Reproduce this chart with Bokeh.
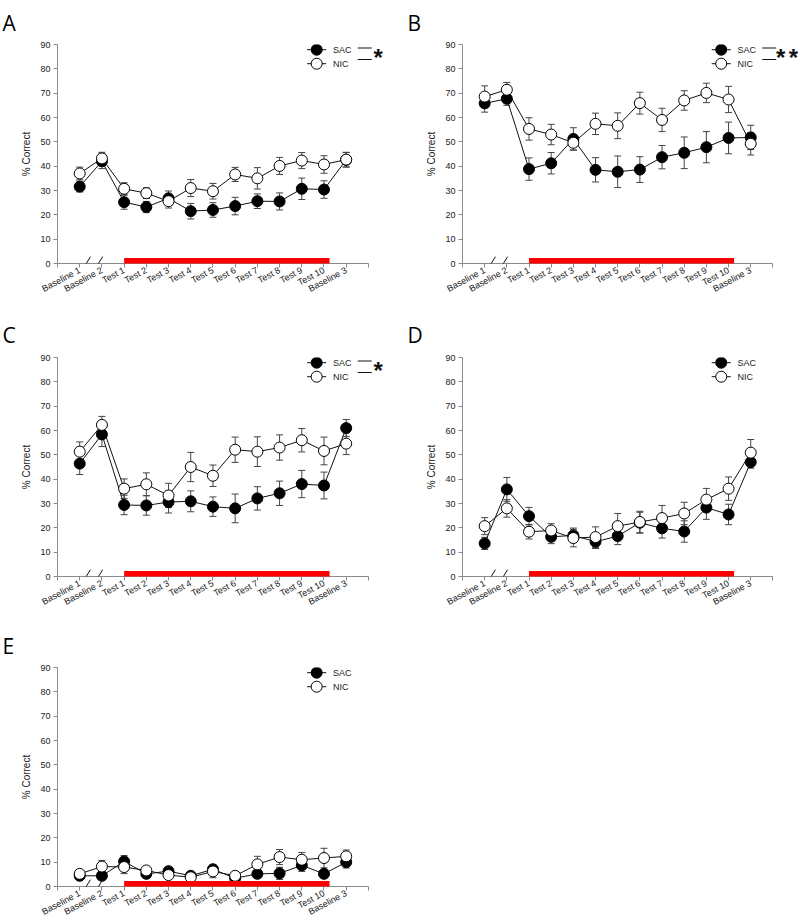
from bokeh.plotting import figure
from bokeh.models import (ColumnDataSource, Whisker, TeeHead, FixedTicker, Range1d,
                          Arrow, BoxAnnotation)
from bokeh.layouts import row, column
from bokeh.embed import file_html
from bokeh.resources import INLINE
from bokeh.core.properties import value

# ---------------- data ----------------
sessions = ["Baseline 1", "Baseline 2", "Test 1", "Test 2", "Test 3", "Test 4", "Test 5",
            "Test 6", "Test 7", "Test 8", "Test 9", "Test 10", "Baseline 3"]

A_sac = [31.6, 42.0, 25.2, 23.2, 26.8, 21.5, 22.0, 23.6, 25.6, 25.5, 30.7, 30.4, 42.6]
A_sac_se = [2.2, 3.0, 2.9, 2.3, 3.0, 3.2, 3.0, 3.6, 3.0, 3.5, 4.4, 3.6, 3.0]
A_nic = [37.0, 43.2, 30.7, 28.9, 25.6, 31.0, 29.7, 36.6, 35.0, 40.1, 42.3, 40.7, 42.7]
A_nic_se = [2.6, 2.5, 2.5, 2.2, 2.8, 3.5, 3.2, 2.9, 4.4, 3.5, 3.3, 3.6, 3.0]

B_sac = [65.8, 67.7, 38.8, 41.2, 51.2, 38.5, 37.7, 38.6, 43.7, 45.5, 47.8, 51.6, 51.8]
B_sac_se = [3.6, 2.7, 4.6, 4.4, 4.6, 5.0, 6.5, 5.3, 4.8, 6.5, 6.4, 6.5, 5.0]
B_nic = [68.6, 71.4, 55.3, 53.0, 49.6, 57.4, 56.6, 65.9, 59.0, 67.0, 70.1, 67.4, 49.2]
B_nic_se = [4.4, 3.0, 4.6, 4.2, 3.0, 4.4, 5.3, 4.5, 4.8, 4.0, 4.0, 5.4, 4.6]

C_sac = [46.4, 58.4, 29.4, 29.2, 30.6, 30.9, 28.7, 28.0, 32.1, 34.2, 38.0, 37.4, 61.0]
C_sac_se = [4.5, 5.0, 4.0, 4.0, 4.5, 4.3, 4.0, 5.9, 4.8, 5.0, 5.6, 5.5, 3.5]
C_nic = [51.3, 62.3, 36.1, 37.9, 33.3, 45.0, 41.4, 52.1, 51.3, 53.0, 56.0, 51.6, 54.6]
C_nic_se = [4.0, 3.5, 4.0, 4.7, 5.0, 6.0, 4.4, 5.2, 6.1, 5.2, 4.8, 5.7, 4.5]

D_sac = [13.6, 35.8, 24.8, 16.3, 16.9, 14.3, 16.6, 22.1, 19.8, 18.5, 28.3, 25.5, 47.0]
D_sac_se = [2.5, 4.9, 3.6, 2.8, 3.0, 2.8, 3.5, 4.3, 4.0, 4.4, 4.8, 4.2, 2.5]
D_nic = [20.7, 28.0, 18.4, 18.9, 15.8, 16.2, 20.7, 22.4, 24.0, 25.9, 31.6, 36.1, 50.9]
D_nic_se = [3.5, 3.6, 3.0, 2.8, 3.6, 4.2, 5.2, 4.4, 5.2, 4.6, 4.6, 4.8, 5.4]

E_sac = [4.4, 4.4, 10.3, 5.2, 6.3, 4.4, 7.1, 3.4, 5.2, 5.4, 8.7, 5.2, 10.0]
E_sac_se = [1.0, 1.0, 2.4, 1.0, 1.0, 1.0, 1.0, 1.0, 1.5, 2.5, 2.5, 1.2, 2.4]
E_nic = [5.2, 8.2, 8.0, 6.6, 4.7, 3.8, 6.2, 4.4, 9.1, 12.1, 11.0, 11.7, 12.4]
E_nic_se = [1.0, 2.5, 2.7, 1.0, 1.3, 0.8, 2.6, 1.0, 3.3, 3.1, 3.0, 4.0, 2.6]

# treatment period (red bar) runs from Test 1 to just past Test 10
treat_start, treat_end = 2, 11.25

# ---------------- layout constants ----------------
S = 22.2              # px per session on the x axis
FH = 219              # frame height (0..90)
PXY = FH / 90.0       # px per y unit
LEFT = 57
FONT = "Liberation Sans"
AXIS_GRAY = "#8a8a8a"


def make_panel(letter, sac, sac_se, nic, nic_se, star_xs, top, bottom, xmax, right):
    fw = int(round((xmax + 1) * S))
    p = figure(frame_width=fw, frame_height=FH,
               x_range=Range1d(-1, xmax), y_range=Range1d(0, 90),
               min_border_left=LEFT, min_border_right=right,
               min_border_top=top, min_border_bottom=bottom,
               output_backend="svg", toolbar_location=None,
               outline_line_color=None, background_fill_color="white",
               border_fill_color="white")
    p.grid.visible = False

    # panel letter as title, pushed as high as the top margin allows
    p.title.text = letter
    p.title.align = "left"
    p.title.offset = -LEFT + 2
    p.title.text_font = "Open Sans"
    p.title.text_font_size = "21px"
    p.title.text_font_style = "normal"
    p.title.text_color = "black"
    p.title.vertical_align = "top"
    p.title.standoff = top - 32

    xa = p.xaxis[0]
    xa.ticker = FixedTicker(ticks=list(range(-1, 14)))
    ov = {i: s for i, s in enumerate(sessions)}
    ov[-1] = ""
    ov[13] = ""
    xa.major_label_overrides = ov
    xa.bounds = (-1, 13)
    xa.major_label_orientation = 0.49
    xa.major_label_standoff = 2

    ya = p.yaxis[0]
    ya.ticker = FixedTicker(ticks=list(range(0, 91, 10)))
    ya.bounds = (0, 90)
    ya.axis_label = "% Correct"
    ya.axis_label_standoff = 5
    ya.major_label_standoff = 3

    for ax in (xa, ya):
        ax.axis_line_color = AXIS_GRAY
        ax.major_tick_line_color = AXIS_GRAY
        ax.minor_tick_line_color = None
        ax.major_tick_out = 4
        ax.major_tick_in = 0
        ax.major_label_text_font = FONT
        ax.major_label_text_font_size = "9px"
        ax.major_label_text_color = "#222222"
        ax.axis_label_text_font = FONT
        ax.axis_label_text_font_size = "10px"
        ax.axis_label_text_font_style = "normal"
        ax.axis_label_text_color = "#222222"

    x = list(range(len(sessions)))
    for vals, se in ((sac, sac_se), (nic, nic_se)):
        src = ColumnDataSource(dict(x=x, lo=[v - e for v, e in zip(vals, se)],
                                    hi=[v + e for v, e in zip(vals, se)]))
        p.add_layout(Whisker(source=src, base="x", upper="hi", lower="lo",
                             line_color="#444444", line_width=1,
                             upper_head=TeeHead(size=7, line_color="#444444", line_width=1),
                             lower_head=TeeHead(size=7, line_color="#444444", line_width=1)))

    p.line(x, sac, line_color="#111111", line_width=1)
    p.line(x, nic, line_color="#111111", line_width=1)
    p.scatter(x, sac, size=11, fill_color="black", line_color="black", line_width=1)
    p.scatter(x, nic, size=11, fill_color="white", line_color="black", line_width=1)

    # treatment bar
    p.add_layout(BoxAnnotation(left=treat_start, right=treat_end, bottom=-0.4, top=2.3,
                               fill_color="#ff0000", fill_alpha=1, line_color=None,
                               level="overlay"))

    # axis break marks
    for cx in (0.335, 0.885):
        p.add_layout(Arrow(x_start=cx - 0.15, y_start=-1.6, x_end=cx + 0.15, y_end=2.8,
                           start=None, end=None, line_color="#111111", line_width=1))

    # legend (drawn by hand, SigmaPlot style)
    lx = 10.67
    y_sac = 90 - 5.2 / PXY
    y_nic = 90 - 19.2 / PXY
    p.segment([lx - 0.43, lx - 0.43], [y_sac, y_nic], [lx + 0.43, lx + 0.43], [y_sac, y_nic],
              line_color="#111111", line_width=1)
    p.scatter([lx], [y_sac], size=11, fill_color="black", line_color="black")
    p.scatter([lx], [y_nic], size=11, fill_color="white", line_color="black")
    p.text([11.4, 11.4], [y_sac, y_nic], text=["SAC", "NIC"], text_font=value(FONT),
           text_font_size="9px", text_baseline="middle", text_align="left",
           text_color="#222222")
    if star_xs:
        yb1 = 90 - 3.5 / PXY
        yb2 = 90 - 15.0 / PXY
        p.segment([12.52, 12.52], [yb1, yb2], [13.15, 13.15], [yb1, yb2],
                  line_color="#111111", line_width=1)
        ys = 90 - 12.5 / PXY
        p.text(star_xs, [ys] * len(star_xs), text=["*"] * len(star_xs),
               text_font=value(FONT), text_font_size="24px", text_font_style="bold",
               text_baseline="alphabetic", text_align="center", text_color="#111111")
    return p


pA = make_panel("A", A_sac, A_sac_se, A_nic, A_nic_se, [13.44], 44, 49, 14.4, 6)
pB = make_panel("B", B_sac, B_sac_se, B_nic, B_nic_se, [13.35, 13.93], 44, 49, 14.2, 0)
pC = make_panel("C", C_sac, C_sac_se, C_nic, C_nic_se, [13.44], 45, 48, 14.4, 6)
pD = make_panel("D", D_sac, D_sac_se, D_nic, D_nic_se, [], 45, 48, 14.2, 0)
pE = make_panel("E", E_sac, E_sac_se, E_nic, E_nic_se, [], 43, 30, 14.4, 6)

layout = column(row(pA, pB), row(pC, pD), pE)
open("out.html", "w").write(file_html(layout, INLINE))
